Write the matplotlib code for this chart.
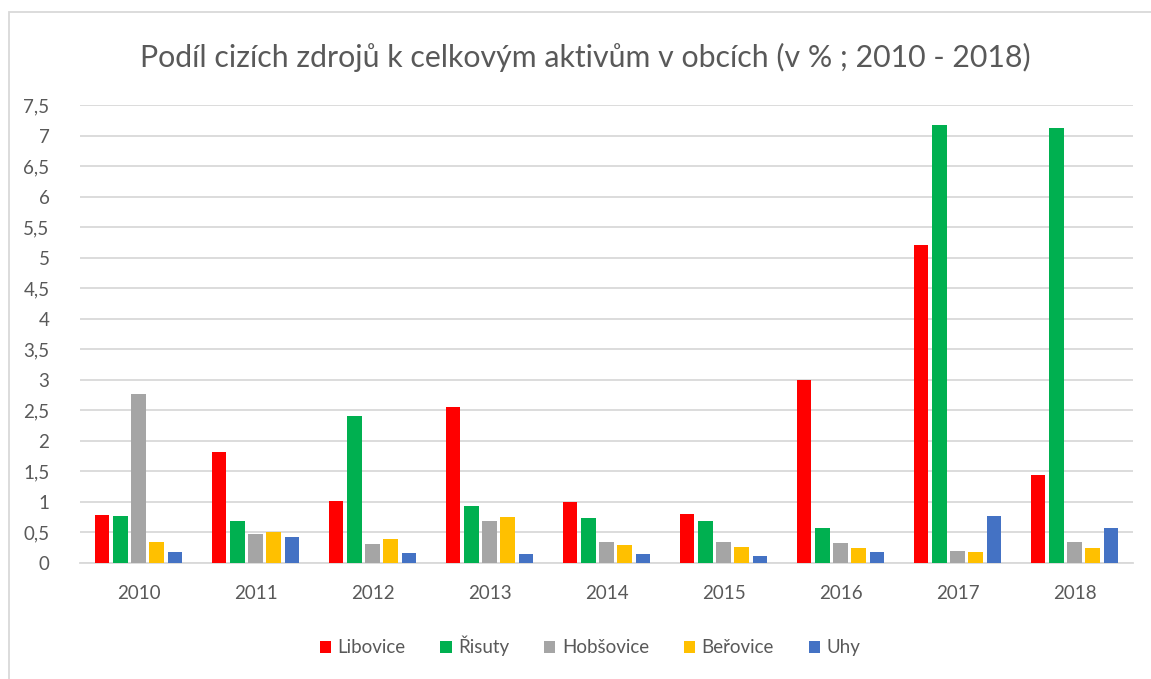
import numpy as np
import matplotlib.pyplot as plt
from matplotlib.patches import Rectangle
from matplotlib.ticker import FuncFormatter

years = ['2010', '2011', '2012', '2013', '2014', '2015', '2016', '2017', '2018']
libovice = [0.79, 1.82, 1.02, 2.56, 1.00, 0.81, 3.00, 5.20, 1.44]
risuty = [0.77, 0.68, 2.41, 0.94, 0.73, 0.68, 0.58, 7.18, 7.13]
hobsovice = [2.77, 0.48, 0.31, 0.68, 0.35, 0.35, 0.33, 0.20, 0.35]
berovice = [0.35, 0.50, 0.39, 0.75, 0.29, 0.27, 0.25, 0.18, 0.25]
uhy = [0.18, 0.42, 0.16, 0.14, 0.14, 0.12, 0.18, 0.77, 0.58]

names = ['Libovice', 'Řisuty', 'Hobšovice', 'Beřovice', 'Uhy']
series = [libovice, risuty, hobsovice, berovice, uhy]
colors = ['#ff0000', '#00b050', '#a5a5a5', '#ffc000', '#4472c4']

plt.rcParams['font.family'] = ['Lato', 'DejaVu Sans']
text_color = '#595959'

fig = plt.figure(figsize=(11.51, 6.79), dpi=100)
ax = fig.add_axes([80 / 1151, 1 - 563 / 679, (1133 - 80) / 1151, (563 - 105) / 679])

# chart-area border (only left and top edges visible in the crop)
fig.patches.append(Rectangle((9 / 1151, -0.1), 1.2, 1 - 12 / 679 + 0.1,
                             transform=fig.transFigure, fill=False,
                             edgecolor='#d9d9d9', lw=1.3))

x = np.arange(len(years))
step = 0.154
width = 0.12
for i, (vals, name, c) in enumerate(zip(series, names, colors)):
    ax.bar(x + (i - 2) * step, vals, width, color=c, label=name, zorder=3)

ax.set_xlim(-0.5, len(years) - 0.5)
ax.set_ylim(0, 7.5)
ax.set_yticks(np.arange(0, 7.51, 0.5))
ax.yaxis.set_major_formatter(FuncFormatter(lambda v, p: ('%g' % v).replace('.', ',')))
ax.set_xticks(x)
ax.set_xticklabels(years)

ax.grid(axis='y', color='#d9d9d9', lw=1.3, zorder=0)
for s in ['top', 'right', 'left']:
    ax.spines[s].set_visible(False)
ax.spines['bottom'].set_color('#d9d9d9')
ax.spines['bottom'].set_linewidth(1.3)
ax.tick_params(axis='both', length=0, labelsize=13.5, colors=text_color)
ax.tick_params(axis='y', pad=22)
ax.tick_params(axis='x', pad=16)

fig.text(585 / 1151, 1 - 57 / 679, 'Podíl cizích zdrojů k celkovým aktivům v obcích (v % ; 2010 - 2018)',
         ha='center', va='center', fontsize=21.8, color=text_color)

fig.legend(loc='center', bbox_to_anchor=(590 / 1151, 1 - 646 / 679), ncol=5,
           frameon=False, fontsize=13.5, labelcolor=text_color,
           handlelength=0.6, handleheight=0.6, handletextpad=0.35, columnspacing=1.85)

fig.savefig('out.png', dpi=100, facecolor='white')
